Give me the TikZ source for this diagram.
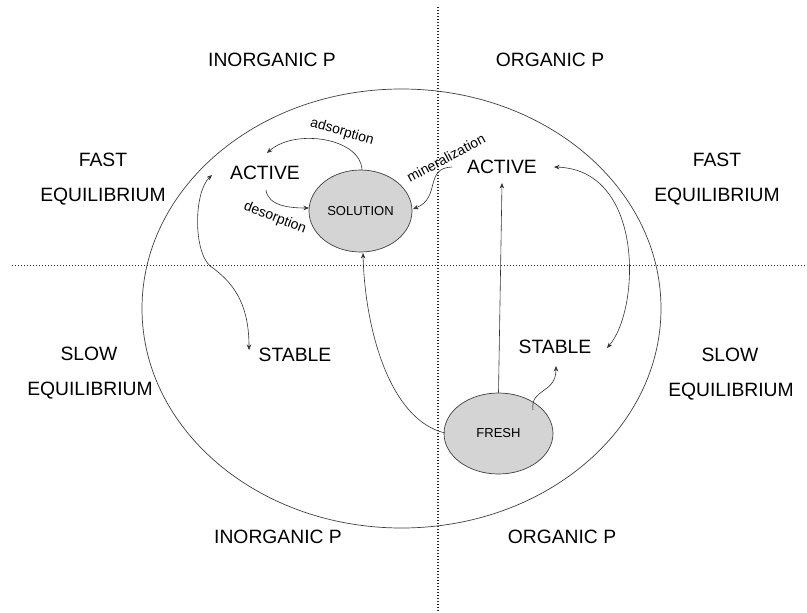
\documentclass[tikz,border=0pt]{standalone}
\usepackage{fontspec}
\setmainfont{Liberation Sans}
\usetikzlibrary{shapes.geometric,arrows.meta}
\begin{document}
\begin{tikzpicture}[x=1pt,y=-1pt,
  big/.style={font=\fontsize{19.3}{21}\selectfont,inner sep=0pt,anchor=center},
  small/.style={font=\fontsize{14}{16}\selectfont,inner sep=0pt},
  pool/.style={ellipse,draw=black!75,line width=0.7pt,fill=black!17,inner sep=0pt,font=\fontsize{13}{15}\selectfont},
  conn/.style={draw=black!80,line width=0.6pt,-{Stealth[length=5.5pt,width=4.5pt]}},
  dconn/.style={draw=black!80,line width=0.6pt,{Stealth[length=5.5pt,width=4.5pt]}-{Stealth[length=5.5pt,width=4.5pt]}},
  divider/.style={draw=black!85,line width=1.3pt,dash pattern=on 1.3pt off 1.7pt}]
\useasboundingbox (0,0) rectangle (807,613);
\fill[white] (0,0) rectangle (807,613);
% dividers
\coordinate (vt) at (438,7);
\coordinate (vb) at (438,613);
\coordinate (hl) at (12,265.5);
\coordinate (hr) at (807,265.5);
\draw[divider] (vt) -- (vb);
\draw[divider] (hl) -- (hr);
% big ellipse
\node[ellipse,draw=black!75,line width=0.7pt,minimum width=519pt,minimum height=439pt,inner sep=0pt] (outer) at (401.5,308.5) {};
% quadrant labels
\node[big] (tl) at (272,60) {INORGANIC P};
\node[big] (tr) at (550,60) {ORGANIC P};
\node[big] (bl) at (278,537) {INORGANIC P};
\node[big] (br) at (562,537) {ORGANIC P};
\node[big] (fl1) at (103,160) {FAST};
\node[big] (fl2) at (103,197) {EQUILIBRIUM};
\node[big] (fr1) at (717,160) {FAST};
\node[big] (fr2) at (717,197) {EQUILIBRIUM};
\node[big] (sl1) at (89,354) {SLOW};
\node[big] (sl2) at (90,391) {EQUILIBRIUM};
\node[big] (sr1) at (730,355) {SLOW};
\node[big] (sr2) at (731,392) {EQUILIBRIUM};
% pools
\node[big] (actL) at (265,173) {ACTIVE};
\node[big] (actR) at (502,167) {ACTIVE};
\node[big] (stabL) at (295,355) {STABLE};
\node[big] (stabR) at (555,347) {STABLE};
\node[pool,minimum width=103pt,minimum height=82pt] (sol) at (360.5,211) {SOLUTION};
\node[pool,minimum width=109pt,minimum height=81pt] (fresh) at (498.5,433.5) {FRESH};
% process labels
\node[small,rotate=-16] (ads) at (342,132) {adsorption};
\node[small,rotate=-21] (des) at (275,218) {desorption};
\node[small,rotate=28] (min) at (446,158) {mineralization};
% connectors
\coordinate (adsS) at (362,170);
\coordinate (adsE) at (267,153);
\path[conn] (adsS) .. controls (361,138) and (295,128) .. (adsE);
\coordinate (desS) at (266,190);
\coordinate (desE) at (309,208);
\path[conn] (desS) .. controls (268,206) and (290,208) .. (desE);
\coordinate (minS) at (452,167);
\coordinate (minE) at (413,209);
\path[conn] (minS) .. controls (424,168) and (441,198) .. (minE);
\coordinate (lA) at (212,175);
\coordinate (lM) at (210,266);
\coordinate (lB) at (249,350);
\path[dconn] (lA) .. controls (194,192) and (193,250) .. (lM) .. controls (238,285) and (249,310) .. (lB);
\coordinate (rA) at (554,167);
\coordinate (rB) at (607,348);
\path[dconn] (rA) .. controls (645,170) and (640,310) .. (rB);
\coordinate (fsS) at (445,433);
\coordinate (fsE) at (363,253);
\path[conn] (fsS) .. controls (390,420) and (365,330) .. (fsE);
\coordinate (faE) at (502,183);
\path[conn] (fresh.north) -- (faE);
\coordinate (fbS) at (533,410);
\coordinate (fbE) at (556,366);
\path[conn] (fbS) .. controls (530,388) and (556,394) .. (fbE);
\end{tikzpicture}
\end{document}
